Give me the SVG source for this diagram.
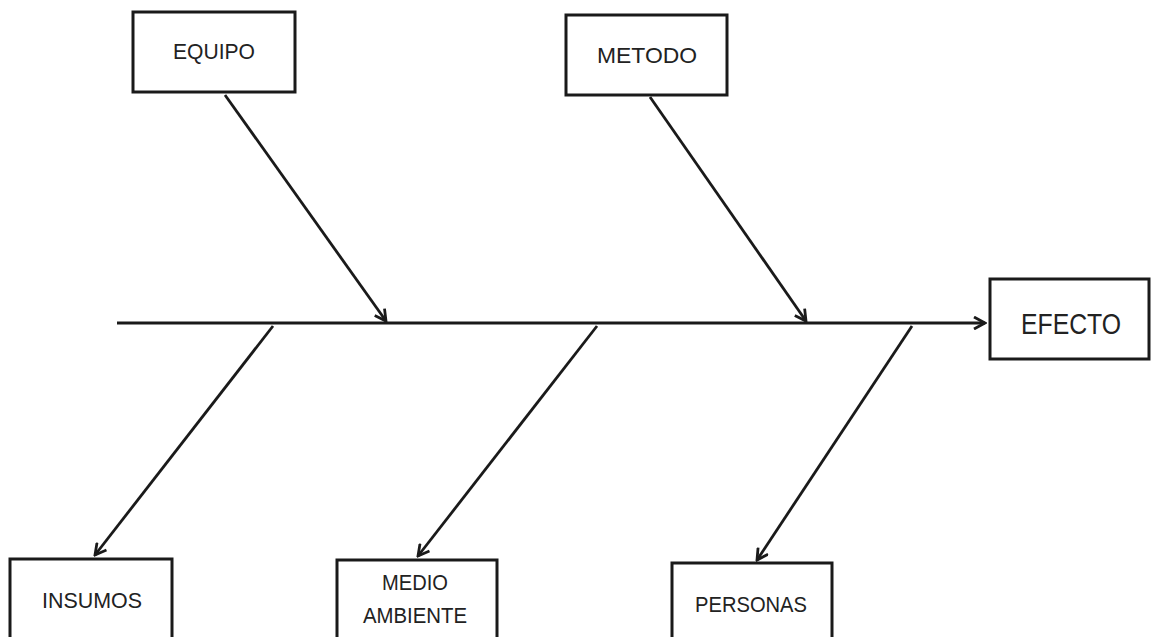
<svg xmlns="http://www.w3.org/2000/svg" width="1153" height="637" viewBox="0 0 1153 637">
<defs>
<marker id="arr" viewBox="0 0 14 14" refX="12" refY="7" markerWidth="14" markerHeight="14" markerUnits="userSpaceOnUse" orient="auto">
<path d="M1,1 L12,7 L1,13" fill="none" stroke="#1a1a1a" stroke-width="2.8" stroke-linejoin="miter"/>
</marker>
<style>
.box{fill:#fff;stroke:#1a1a1a;stroke-width:3}
.lbl{font-family:"Liberation Sans",Arial,sans-serif;font-size:22px;fill:#222;text-anchor:middle}
.con{stroke:#1a1a1a;stroke-width:2.8;fill:none;marker-end:url(#arr)}
</style>
</defs>
<rect width="1153" height="637" fill="#fff"/>
<g id="connectors">
<line x1="117" y1="323" x2="985" y2="323" class="con"/>
<line x1="225" y1="95" x2="386" y2="321" class="con"/>
<line x1="650" y1="97" x2="806" y2="321" class="con"/>
<line x1="273" y1="326" x2="95" y2="555" class="con"/>
<line x1="597" y1="326" x2="418" y2="556" class="con"/>
<line x1="912" y1="326" x2="757" y2="560" class="con"/>
</g>
<g id="equipo">
<rect class="box" x="133" y="12" width="162" height="80"/>
<text class="lbl" x="214" y="59" textLength="82" lengthAdjust="spacingAndGlyphs">EQUIPO</text>
</g>
<g id="metodo">
<rect class="box" x="566" y="15" width="161" height="80"/>
<text class="lbl" x="647" y="63" textLength="100" lengthAdjust="spacingAndGlyphs">METODO</text>
</g>
<g id="efecto">
<rect class="box" x="990" y="279" width="159" height="80"/>
<text class="lbl" x="1071" y="334" textLength="100" lengthAdjust="spacingAndGlyphs" style="font-size:29px">EFECTO</text>
</g>
<g id="insumos">
<rect class="box" x="10" y="559" width="162" height="90"/>
<text class="lbl" x="92" y="608" textLength="100" lengthAdjust="spacingAndGlyphs">INSUMOS</text>
</g>
<g id="medio-ambiente">
<rect class="box" x="337" y="560" width="160" height="90"/>
<text class="lbl" x="415" y="590" textLength="66" lengthAdjust="spacingAndGlyphs">MEDIO</text>
<text class="lbl" x="415" y="623" textLength="104" lengthAdjust="spacingAndGlyphs">AMBIENTE</text>
</g>
<g id="personas">
<rect class="box" x="672" y="563" width="160" height="90"/>
<text class="lbl" x="751" y="612" textLength="112" lengthAdjust="spacingAndGlyphs">PERSONAS</text>
</g>
</svg>
